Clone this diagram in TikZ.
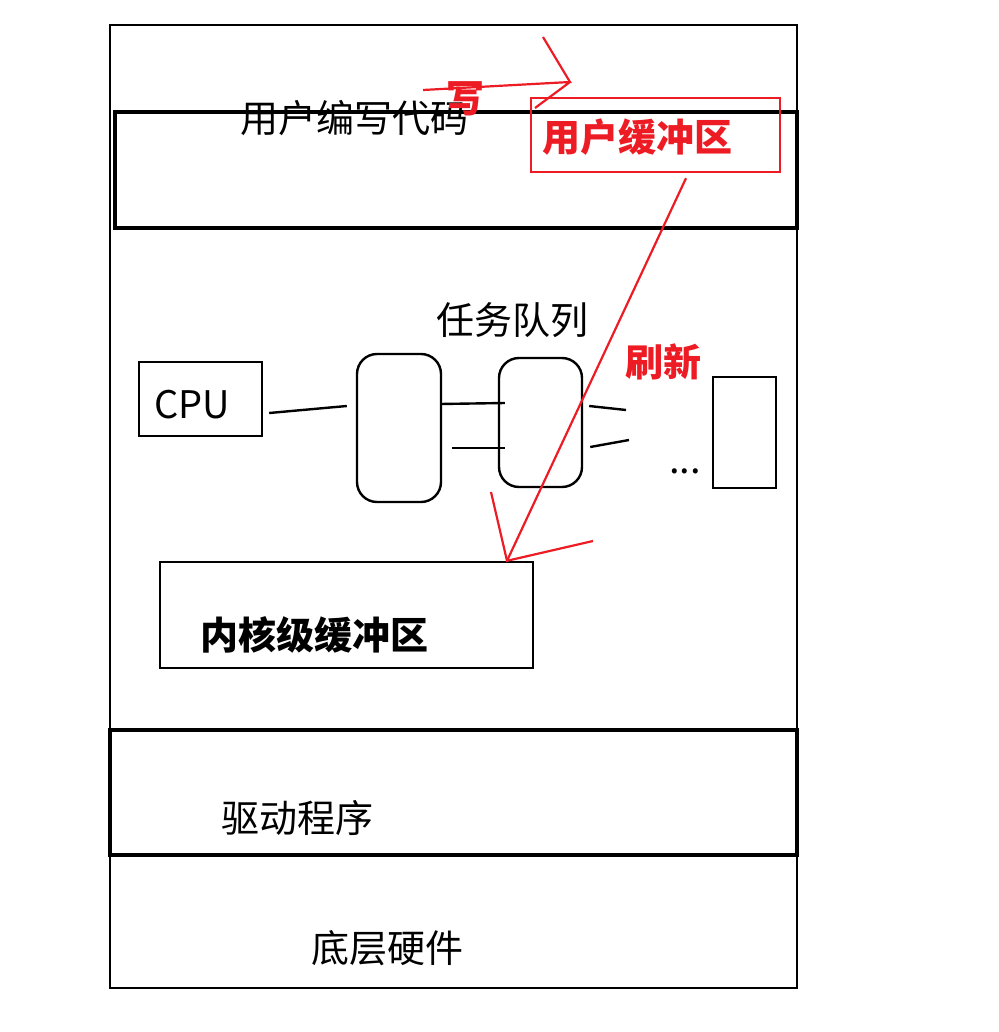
\documentclass[tikz,border=0pt]{standalone}
\usepackage{fontspec}
\setmainfont{Noto Sans CJK SC}
\usetikzlibrary{calc}

\definecolor{paintred}{RGB}{237, 28, 36}

\tikzset{
	txt/.style = {inner sep = 0pt, font = \fontsize{19}{23}\selectfont},
	redtxt/.style = {inner sep = 0pt, text = paintred, font = \fontsize{19}{23}\selectfont\bfseries},
	box/.style = {draw, line width = 1.2pt, inner sep = 0pt},
	redline/.style = {paintred, line width = 1.1pt}
}

\begin{document}
\begin{tikzpicture}[x = 0.5pt, y = -0.5pt]

	\useasboundingbox (0, 0) rectangle (999, 1032);

	% Layers
	
	\draw [line width = 1.1pt] (110, 25) rectangle (797, 988);
	\draw [line width = 1.6pt] (115, 112) rectangle (797, 228);
	\draw [line width = 1.6pt] (110, 730) rectangle (797, 855);
	
	\node [txt] (code) at (354, 118) {用户编写代码};
	\node [txt] (driver) at (297, 818) {驱动程序};
	\node [txt] (hw) at (387, 948) {底层硬件};
	
	% CPU and task queue
	
	\node [box, txt, minimum width = 61.5pt, minimum height = 37pt, inner sep = 0pt] (cpu) at (200.5, 399) {};
	\node [txt] (cputext) at (192, 405) {CPU};
	\node [box, rounded corners = 10pt, minimum width = 42pt, minimum height = 74pt] (q1) at (399, 428) {};
	\node [box, rounded corners = 10pt, minimum width = 41.5pt, minimum height = 64.5pt] (q2) at (540.5, 422.5) {};
	\node [box, minimum width = 31.5pt, minimum height = 55.5pt] (qn) at (744.5, 432.5) {};
	
	\node [txt] (queue) at (512, 320) {任务队列};
	\node [txt] (dots) at (685, 471) {...};
	
	\coordinate (out1) at (626, 410);
	\coordinate (out2) at (629, 440);
	
	\draw [line width = 1.2pt] ($(cpu.east) + (6, 14)$) -- ($(q1.west) + (-9, -22)$);
	\draw [line width = 1.2pt] ($(q1.east) + (-2, -24)$) -- ($(q2.west) + (7, -19.5)$);
	\draw [line width = 1.2pt] ($(q1.east) + (10, 20)$) -- ($(q2.west) + (7, 25.5)$);
	\draw [line width = 1.2pt] ($(q2.east) + (6, -16.5)$) -- (out1);
	\draw [line width = 1.2pt] ($(q2.east) + (7, 24.5)$) -- (out2);
	
	% Buffers
	
	\node [box, draw = paintred, minimum width = 124.5pt, minimum height = 37pt] (ubuf) at (655.5, 135) {};
	\node [redtxt] (ubuftext) at (637, 137) {用户缓冲区};
	
	\node [box, minimum width = 186.5pt, minimum height = 53pt] (kbuf) at (346.5, 615) {};
	\node [txt, font = \fontsize{19}{23}\selectfont\bfseries] (kbuftext) at (314, 635) {内核级缓冲区};
	
	% Write arrow
	
	\coordinate (w1) at (423, 90);
	\coordinate (w2) at (570, 82);
	
	\draw [redline] (w1) -- (w2) -- (543, 37) (w2) -- (535, 108);
	\node [redtxt] (write) at (465, 99) {写};
	
	% Flush arrow
	
	\coordinate (tip) at ($(kbuf.north) + (160.5, 0)$);
	
	\draw [redline] ($(ubuf.south) + (30.5, 5)$) -- (tip);
	\draw [redline] (491, 492) -- (tip) -- (593, 541);
	\node [redtxt] (flush) at (663, 362) {刷新};

\end{tikzpicture}
\end{document}
